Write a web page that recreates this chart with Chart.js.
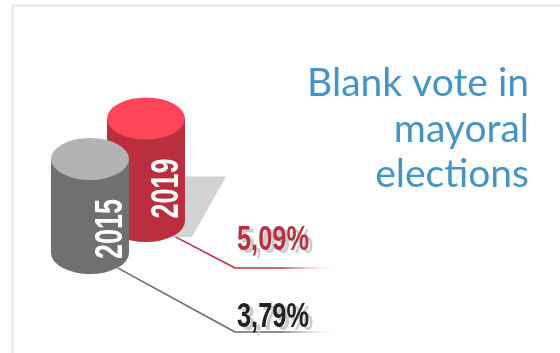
<!DOCTYPE html>
<html>
<head>
<meta charset="utf-8">
<title>Blank vote in mayoral elections</title>
<script src="https://cdn.jsdelivr.net/npm/chart.js@4.4.1/dist/chart.umd.min.js"></script>
<style>
  html, body { margin: 0; padding: 0; background: #fff; }
  #wrap { width: 560px; height: 353px; }
</style>
</head>
<body>
<div id="wrap"><canvas id="chart" width="560" height="353"></canvas></div>
<script>
// data
const years = ['2015', '2019'];
const blankVote = [3.79, 5.09];
const titleLines = ['Blank vote in', 'mayoral', 'elections'];

// styles, one entry per year
const sideColors = ['#707070', '#bb2e3e'];
const capColors = ['#b3b3b3', '#ff4658'];
const labelColors = ['#222222', '#b8303f'];
const lineColors = ['#6a6a6a', '#c0303f'];

const NUM_FONT = '"Liberation Sans Narrow", "Liberation Sans", Arial, sans-serif';
const CAP_RY = 21;

function formatPct(v) {
  return v.toFixed(2).replace('.', ',') + '%';
}

// draw text squeezed horizontally to a given width (condensed look)
function fitText(ctx, text, x, y, width) {
  const w = ctx.measureText(text).width;
  ctx.save();
  ctx.translate(x, y);
  ctx.scale(width / w, 1);
  ctx.fillText(text, 0, 0);
  ctx.restore();
}

function drawCylinder(ctx, x, top, base, w, side, cap) {
  const rx = w / 2;
  ctx.fillStyle = side;
  ctx.beginPath();
  ctx.moveTo(x + rx, top);
  ctx.lineTo(x + rx, base);
  ctx.ellipse(x, base, rx, CAP_RY, 0, 0, Math.PI);
  ctx.lineTo(x - rx, top);
  ctx.closePath();
  ctx.fill();

  ctx.fillStyle = cap;
  ctx.beginPath();
  ctx.ellipse(x, top, rx, CAP_RY, 0, 0, Math.PI * 2);
  ctx.fill();
}

const cylinderPlugin = {
  id: 'cylinders',
  beforeDraw(chart) {
    const ctx = chart.ctx;
    ctx.save();
    ctx.fillStyle = '#fff';
    ctx.fillRect(0, 0, chart.width, chart.height);
    // light frame on top and left
    ctx.strokeStyle = '#e6e6e6';
    ctx.lineWidth = 2;
    ctx.beginPath();
    ctx.moveTo(12.5, chart.height);
    ctx.lineTo(12.5, 5.5);
    ctx.lineTo(chart.width, 5.5);
    ctx.stroke();
    ctx.restore();
  },
  afterDatasetsDraw(chart, args, opts) {
    const ctx = chart.ctx;
    ctx.save();
    // back cylinder (2019) first, front one (2015) last
    for (let di = chart.data.datasets.length - 1; di >= 0; di--) {
      const meta = chart.getDatasetMeta(di);
      const bar = meta.data[di];
      const { x, y, base, width } = bar.getProps(['x', 'y', 'base', 'width'], true);
      const rx = width / 2;
      const call = opts.callouts[di];

      // leader line from the bottom rim to the value label
      const sx = x + rx * Math.cos(Math.PI / 4);
      const sy = base + CAP_RY * Math.sin(Math.PI / 4);
      ctx.strokeStyle = lineColors[di];
      ctx.lineWidth = 1.6;
      ctx.beginPath();
      ctx.moveTo(sx, sy);
      ctx.lineTo(opts.kneeX, call.lineY);
      ctx.stroke();
      const grad = ctx.createLinearGradient(opts.kneeX, 0, opts.lineEnd, 0);
      grad.addColorStop(0, lineColors[di]);
      grad.addColorStop(0.45, lineColors[di]);
      grad.addColorStop(1, 'rgba(255,255,255,0)');
      ctx.strokeStyle = grad;
      ctx.beginPath();
      ctx.moveTo(opts.kneeX, call.lineY);
      ctx.lineTo(opts.lineEnd, call.lineY);
      ctx.stroke();

      // cast shadow behind the back cylinder
      if (di === 1) {
        ctx.fillStyle = '#d3d3d3';
        ctx.beginPath();
        ctx.moveTo(x, y + 58);
        ctx.lineTo(x + 80, y + 58);
        ctx.lineTo(x + 46, base + 16);
        ctx.lineTo(x, base + 16);
        ctx.closePath();
        ctx.fill();
      }

      drawCylinder(ctx, x, y, base, width, sideColors[di], capColors[di]);

      // year written up the side
      ctx.save();
      ctx.translate(x + 31.5, y + 40);
      ctx.rotate(-Math.PI / 2);
      ctx.fillStyle = '#ffffff';
      ctx.font = 'bold 39px ' + NUM_FONT;
      ctx.textAlign = 'left';
      ctx.textBaseline = 'alphabetic';
      const yw = ctx.measureText(years[di]).width;
      ctx.translate(-60, 0);
      ctx.scale(60 / yw, 1);
      ctx.fillText(years[di], 0, 0);
      ctx.restore();

      // value label with soft shadow
      const txt = formatPct(chart.data.datasets[di].data[di]);
      ctx.font = 'bold 35px ' + NUM_FONT;
      ctx.textAlign = 'left';
      ctx.textBaseline = 'alphabetic';
      ctx.fillStyle = '#cdcdcd';
      fitText(ctx, txt, opts.labelX + 4, call.textY + 3, 72);
      ctx.fillStyle = labelColors[di];
      fitText(ctx, txt, opts.labelX, call.textY, 72);
    }

    // title, right aligned
    ctx.fillStyle = '#4594c4';
    ctx.font = '39px Lato, "Open Sans", sans-serif';
    ctx.textAlign = 'right';
    ctx.textBaseline = 'alphabetic';
    titleLines.forEach((line, i) => {
      ctx.fillText(line, 529, 96 + i * 45.5);
    });
    ctx.restore();
  }
};

const datasets = years.map((yr, i) => ({
  label: yr,
  data: years.map((_, j) => (j === i ? blankVote[i] : null)),
  yAxisID: i === 0 ? 'y' : 'y1',
  backgroundColor: 'rgba(0,0,0,0)',
  borderWidth: 0,
  grouped: false,
  barThickness: 78
}));

new Chart(document.getElementById('chart'), {
  type: 'bar',
  data: { labels: years, datasets },
  options: {
    responsive: false,
    animation: false,
    events: [],
    layout: { padding: { left: 62, right: 386, top: 60, bottom: 53 } },
    plugins: {
      legend: { display: false },
      tooltip: { enabled: false },
      cylinders: {
        kneeX: 235,
        lineEnd: 340,
        labelX: 237,
        callouts: [{ lineY: 332, textY: 327 }, { lineY: 268, textY: 250 }]
      }
    },
    scales: {
      x: { display: false },
      // the back cylinder sits higher, so each year gets its own hidden axis
      y: { display: false, min: -1.895, max: 7.782 },
      y1: { display: false, min: -3.923, max: 7.994 }
    }
  },
  plugins: [cylinderPlugin]
});
</script>
</body>
</html>
